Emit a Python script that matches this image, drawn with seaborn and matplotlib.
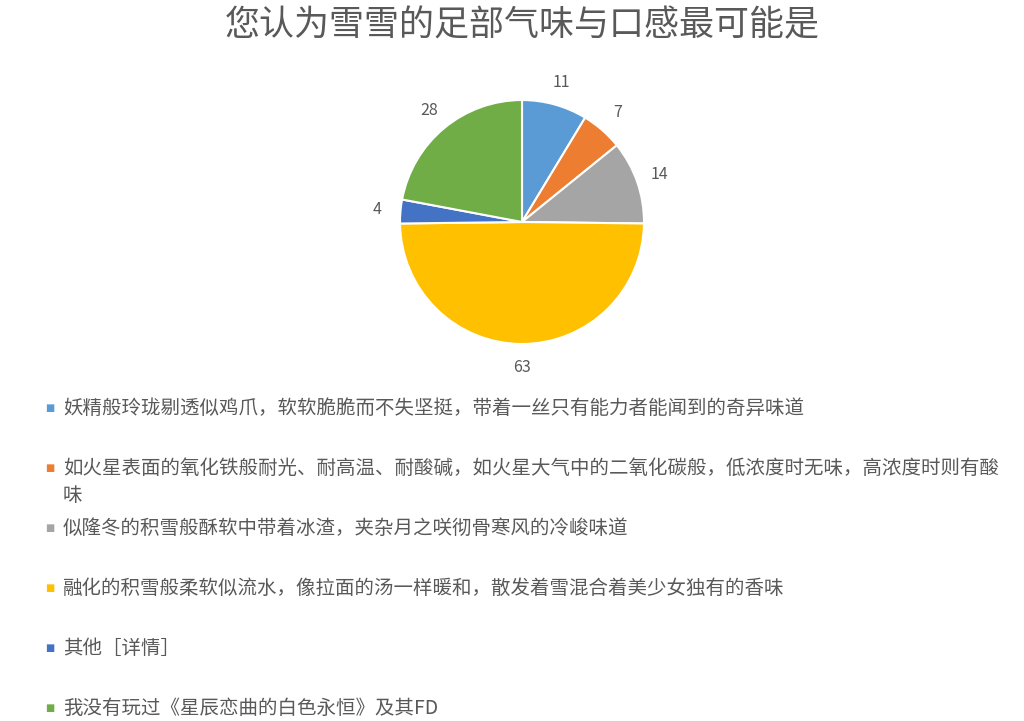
import matplotlib
matplotlib.use("Agg")
import matplotlib.pyplot as plt
import seaborn as sns

title = "您认为雪雪的足部气味与口感最可能是"
labels = [
    "妖精般玲珑剔透似鸡爪，软软脆脆而不失坚挺，带着一丝只有能力者能闻到的奇异味道",
    "如火星表面的氧化铁般耐光、耐高温、耐酸碱，如火星大气中的二氧化碳般，低浓度时无味，高浓度时则有酸\n味",
    "似隆冬的积雪般酥软中带着冰渣，夹杂月之咲彻骨寒风的冷峻味道",
    "融化的积雪般柔软似流水，像拉面的汤一样暖和，散发着雪混合着美少女独有的香味",
    "其他［详情］",
    "我没有玩过《星辰恋曲的白色永恒》及其FD",
]
counts = [11, 7, 14, 63, 4, 28]
colors = ["#5B9BD5", "#ED7D31", "#A5A5A5", "#FFC000", "#4472C4", "#70AD47"]

sns.set_theme(style="white")
plt.rcParams["font.family"] = ["Noto Sans CJK SC", "DejaVu Sans"]
text_color = "#595959"

W, H = 1024, 721
fig = plt.figure(figsize=(W / 100, H / 100), dpi=100)

# pie placed by pixel centre / radius
cx, cy, r = 522, 222, 122
ax = fig.add_axes([(cx - r) / W, 1 - (cy + r) / H, 2 * r / W, 2 * r / H])
wedges, texts = ax.pie(
    counts,
    labels=[str(c) for c in counts],
    colors=sns.color_palette(colors),
    startangle=90,
    counterclock=False,
    labeldistance=1.19,
    wedgeprops=dict(edgecolor="white", linewidth=1.5),
    textprops=dict(color=text_color, fontsize=11.5),
)
for t in texts:
    t.set_horizontalalignment("center")
    t.set_verticalalignment("center")
ax.set_xlim(-1, 1)
ax.set_ylim(-1, 1)
ax.set_aspect("equal")
ax.axis("off")

fig.text(cx / W, 1 - 25 / H, title, ha="center", va="center",
         fontsize=25.2, color=text_color)

# legend rows
y0, step = 408, 60
for i, (lab, col) in enumerate(zip(labels, colors)):
    y = y0 + step * i
    fig.text(50 / W, 1 - y / H, "■", ha="center", va="center",
             fontsize=7, color=col, family=["DejaVu Sans"])
    fig.text(63 / W, 1 - (y - 10) / H, lab, ha="left", va="top",
             fontsize=14.0, color=text_color, linespacing=1.35)

fig.savefig("out.png", dpi=100, facecolor="white")
